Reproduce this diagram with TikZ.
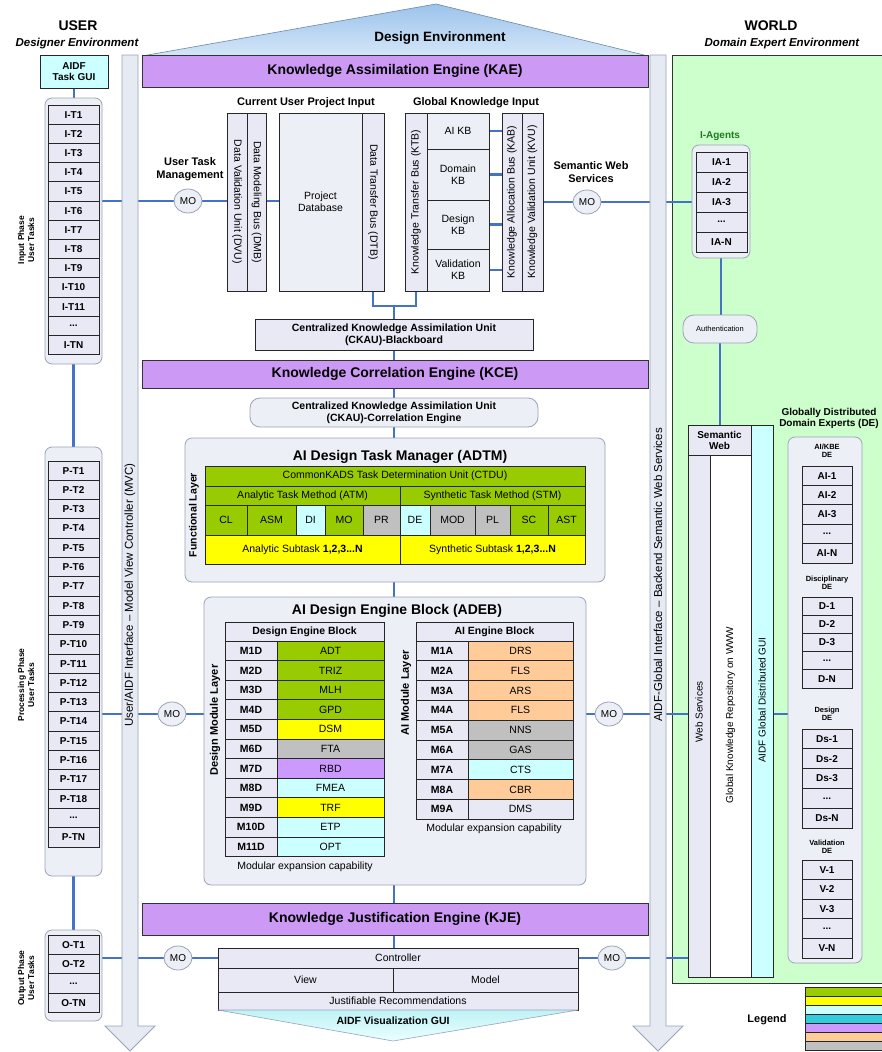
\documentclass[tikz,border=0pt]{standalone}
\usepackage{fontspec}
\setmainfont{Liberation Sans}
\usetikzlibrary{shapes.geometric}
\pgfdeclarelayer{lyA}
\pgfdeclarelayer{lyB}
\pgfdeclarelayer{lyC}
\pgfsetlayers{lyA,lyB,lyC,main}
\definecolor{cblue}{HTML}{4472C4}
\definecolor{kgreen}{HTML}{99CC00}
\definecolor{kyellow}{HTML}{FFFF00}
\definecolor{kcyan}{HTML}{CCFFFF}
\definecolor{kgray}{HTML}{C0C0C0}
\definecolor{kpurple}{HTML}{CC99FF}
\definecolor{korange}{HTML}{FFCC99}
\definecolor{klav}{HTML}{E8E9F4}
\definecolor{kpanel}{HTML}{EDEFF6}
\definecolor{kworld}{HTML}{CCFFCC}
\definecolor{kroofA}{HTML}{9CC3EC}
\definecolor{kroofB}{HTML}{D4E6F8}
\definecolor{karrow}{HTML}{E6EAF3}
\definecolor{kborder}{HTML}{9AA3B8}
\definecolor{kbar}{HTML}{CC99F5}
\definecolor{kdgreen}{HTML}{1E7A1E}
\definecolor{kteal}{HTML}{33CCDD}
\definecolor{kvis}{HTML}{BFF2F5}
\newcommand{\myfs}[2]{\fontsize{#1}{#2}\selectfont}
\newcommand{\ddd}{...}
\newcommand{\mybox}[7]{%
  \pgfmathsetmacro{\myW}{#4-(#2)}%
  \pgfmathsetmacro{\myH}{#5-(#3)}%
  \pgfmathsetmacro{\myX}{(#2+#4)/2}%
  \pgfmathsetmacro{\myY}{(#3+#5)/2}%
  \node[#6, minimum width=\myW pt, minimum height=\myH pt, inner sep=0pt, outer sep=0pt] (#1) at (\myX,\myY) {#7};}
\tikzset{
  conn/.style={draw=cblue, line width=2.8pt},
  bar/.style={draw=black!80, line width=1pt, fill=kbar, font=\bfseries\myfs{14}{16}},
  cell/.style={draw=black!85, line width=1pt, align=center, font=\myfs{10.5}{12}},
  bcell/.style={cell, font=\bfseries\myfs{10.5}{12}},
  item/.style={cell, fill=klav, font=\bfseries\myfs{10}{11}},
  lab/.style={font=\bfseries\myfs{11}{12.5}, align=center, inner sep=0pt},
  rotu/.style={rotate=90, inner sep=0pt, font=\myfs{10.5}{12}, align=center},
  rotd/.style={rotate=-90, inner sep=0pt, font=\myfs{10.5}{12}},
  panel/.style={draw=kborder, line width=0.8pt, fill=kpanel, rounded corners=7pt},
  mo/.style={ellipse, draw=kborder, line width=0.8pt, fill=kpanel, minimum width=28pt, minimum height=24pt, inner sep=0pt, font=\myfs{10}{11}},
}
\begin{document}
\begin{tikzpicture}[x=1pt,y=-1pt]
\useasboundingbox (0,0) rectangle (881,1052);
\begin{pgfonlayer}{lyA}
  \fill[white] (0,0) rectangle (881,1052);
  \shade[top color=kroofA, bottom color=kroofB, draw=kroofA!70!black, line width=0.6pt] (142,56) -- (436,4) -- (648,56) -- cycle;
  \mybox{worldbox}{672}{55}{884}{983}{draw=black!80, line width=1pt, fill=kworld}{}
\end{pgfonlayer}

% titles
\node[font=\bfseries\myfs{14}{16}] (user) at (78,26) {USER};
\node[font=\bfseries\itshape\myfs{11.5}{13}] (userenv) at (77,44) {Designer Environment};
\node[font=\bfseries\myfs{14}{16}] (worldt) at (771,26) {WORLD};
\node[font=\bfseries\itshape\myfs{11.5}{13}] (worldenv) at (782,44) {Domain Expert Environment};
\node[font=\bfseries\myfs{13.5}{15}] (detitle) at (440,38) {Design Environment};

% engine bars
\mybox{kae}{142}{55}{648}{87}{bar}{Knowledge Assimilation Engine (KAE)}
\mybox{kce}{142}{360}{648}{388}{bar}{Knowledge Correlation Engine (KCE)}
\mybox{kje}{142}{903}{648}{935}{bar}{Knowledge Justification Engine (KJE)}

% left user column
\mybox{gui}{40}{55}{108}{88}{bcell, fill=kcyan, font=\bfseries\myfs{10}{11}}{AIDF\\Task GUI}
\mybox{ic}{45}{98}{102}{364}{panel}{}
\foreach \t [count=\i] in {I-T1,I-T2,I-T3,I-T4,I-T5,I-T6,I-T7,I-T8,I-T9,I-T10,I-T11,\ddd,I-TN}{
  \pgfmathsetmacro{\ya}{105+(\i-1)*19.2}\pgfmathsetmacro{\yb}{\ya+19.2}
  \mybox{it\i}{48}{\ya}{99}{\yb}{item}{\t}}
\mybox{pc}{45}{447}{102}{876}{panel}{}
\foreach \t [count=\i] in {P-T1,P-T2,P-T3,P-T4,P-T5,P-T6,P-T7,P-T8,P-T9,P-T10,P-T11,P-T12,P-T13,P-T14,P-T15,P-T16,P-T17,P-T18,\ddd,P-TN}{
  \pgfmathsetmacro{\ya}{461+(\i-1)*19.3}\pgfmathsetmacro{\yb}{\ya+19.3}
  \mybox{pt\i}{48}{\ya}{99}{\yb}{item}{\t}}
\mybox{oc}{45}{930}{102}{1021}{panel}{}
\foreach \t [count=\i] in {O-T1,O-T2,\ddd,O-TN}{
  \pgfmathsetmacro{\ya}{935+(\i-1)*19.4}\pgfmathsetmacro{\yb}{\ya+19.4}
  \mybox{ot\i}{48}{\ya}{99}{\yb}{item}{\t}}
\node[rotu, font=\bfseries\myfs{8.5}{10}] (lin) at (26,240) {Input Phase\\User Tasks};
\node[rotu, font=\bfseries\myfs{8.5}{10}] (lproc) at (26,685) {Processing Phase\\User Tasks};
\node[rotu, font=\bfseries\myfs{8.5}{10}] (lout) at (26,978) {Output Phase\\User Tasks};

% KAE contents
\node[lab] (cupi) at (306,103) {Current User Project Input};
\node[lab] (gki) at (476,103) {Global Knowledge Input};
\mybox{dvu}{227}{113}{247}{291}{cell, fill=klav}{}
\mybox{dmb}{247}{113}{266}{291}{cell, fill=klav}{}
\mybox{pdb}{279}{113}{362}{291}{cell, fill=kpanel}{Project\\Database}
\mybox{dtb}{362}{113}{384}{291}{cell, fill=klav}{}
\mybox{ktb}{405}{113}{427}{291}{cell, fill=klav}{}
\mybox{aikb}{427}{113}{489}{149}{cell, fill=kpanel}{AI KB}
\mybox{dkb}{427}{149}{489}{200}{cell, fill=kpanel}{Domain\\KB}
\mybox{dskb}{427}{200}{489}{249}{cell, fill=kpanel}{Design\\KB}
\mybox{vkb}{427}{249}{489}{291}{cell, fill=kpanel}{Validation\\KB}
\mybox{kab}{502}{113}{522}{291}{cell, fill=klav}{}
\mybox{kvu}{522}{113}{543}{291}{cell, fill=klav}{}
\node[rotd] (dvut) at (dvu.center) {Data Validation Unit (DVU)};
\node[rotd] (dmbt) at (dmb.center) {Data Modeling Bus (DMB)};
\node[rotd] (dtbt) at (dtb.center) {Data Transfer Bus (DTB)};
\node[rotu] (ktbt) at (ktb.center) {Knowledge Transfer Bus (KTB)};
\node[rotu] (kabt) at (kab.center) {Knowledge Allocation Bus (KAB)};
\node[rotu] (kvut) at (kvu.center) {Knowledge Validation Unit (KVU)};
\coordinate (bus) at (394,306);
\mybox{ckau}{255}{319}{533}{350}{bcell, fill=klav}{Centralized Knowledge Assimilation Unit\\(CKAU)-Blackboard}
\node[lab] (utm) at (190,169) {User Task\\Management};
\node[mo] (mo1) at (188,201) {MO};
\node[lab] (sws) at (591,172) {Semantic Web\\Services};
\node[mo] (mo2) at (587,202) {MO};

% KCE contents
\mybox{ckauce}{250}{398}{538}{427}{panel, rounded corners=10pt, font=\bfseries\myfs{10.5}{12}, align=center}{Centralized Knowledge Assimilation Unit\\(CKAU)-Correlation Engine}
\mybox{adtm}{185}{438}{605}{582}{panel}{}
\node[font=\bfseries\myfs{14}{16}] (adtmt) at (400,457) {AI Design Task Manager (ADTM)};
\mybox{ctdu}{205}{466}{585}{486}{cell, fill=kgreen}{CommonKADS Task Determination Unit (CTDU)}
\mybox{atm}{205}{486}{400}{505}{cell, fill=kgreen}{Analytic Task Method (ATM)}
\mybox{stm}{400}{486}{585}{505}{cell, fill=kgreen}{Synthetic Task Method (STM)}
\foreach \nm/\xa/\xb/\c/\t in {cl/205/247/kgreen/CL, asm/247/296/kgreen/ASM, di/296/325/kcyan/DI, mo/325/363/kgreen/MO, pr/363/400/kgray/PR, de/400/430/kcyan/DE, mod/430/475/kgray/MOD, pl/475/510/kgray/PL, sc/510/548/kgreen/SC, ast/548/585/kgreen/AST}{
  \mybox{m\nm}{\xa}{505}{\xb}{535}{cell, fill=\c}{\t}}
\mybox{asub}{205}{535}{400}{564}{cell, fill=kyellow}{Analytic Subtask \textbf{1,2,3...N}}
\mybox{ssub}{400}{535}{585}{564}{cell, fill=kyellow}{Synthetic Subtask \textbf{1,2,3...N}}
\node[rotu, font=\bfseries\myfs{10.5}{12}] (fl) at (194,515) {Functional Layer};

% ADEB
\mybox{adeb}{204}{597}{586}{885}{panel}{}
\node[font=\bfseries\myfs{14}{16}] (adebt) at (397,611) {AI Design Engine Block (ADEB)};
\mybox{deb}{225}{622}{384}{641}{bcell, fill=klav}{Design Engine Block}
\foreach \a/\b/\c [count=\i] in {M1D/ADT/kgreen, M2D/TRIZ/kgreen, M3D/MLH/kgreen, M4D/GPD/kgreen, M5D/DSM/kyellow, M6D/FTA/kgray, M7D/RBD/kpurple, M8D/FMEA/kcyan, M9D/TRF/kyellow, M10D/ETP/kcyan, M11D/OPT/kcyan}{
  \pgfmathsetmacro{\ya}{641+(\i-1)*19.6}\pgfmathsetmacro{\yb}{\ya+19.6}
  \mybox{dl\i}{225}{\ya}{277}{\yb}{bcell, fill=klav}{\a}
  \mybox{dr\i}{277}{\ya}{384}{\yb}{cell, fill=\c}{\b}}
\node[font=\myfs{10.5}{12}] (dmec) at (305,867) {Modular expansion capability};
\node[rotu, font=\bfseries\myfs{11}{12}] (dml) at (215,720) {Design Module Layer};
\mybox{aeb}{416}{622}{573}{641}{bcell, fill=klav}{AI Engine Block}
\foreach \a/\b/\c [count=\i] in {M1A/DRS/korange, M2A/FLS/korange, M3A/ARS/korange, M4A/FLS/korange, M5A/NNS/kgray, M6A/GAS/kgray, M7A/CTS/kcyan, M8A/CBR/korange, M9A/DMS/klav}{
  \pgfmathsetmacro{\ya}{641+(\i-1)*19.8}\pgfmathsetmacro{\yb}{\ya+19.8}
  \mybox{al\i}{416}{\ya}{468}{\yb}{bcell, fill=klav}{\a}
  \mybox{ar\i}{468}{\ya}{573}{\yb}{cell, fill=\c}{\b}}
\node[font=\myfs{10.5}{12}] (amec) at (494,829) {Modular expansion capability};
\node[rotu, font=\bfseries\myfs{11}{12}] (aml) at (406,693) {AI Module Layer};
\node[mo] (mo3) at (172,714) {MO};
\node[mo] (mo4) at (609,714) {MO};

% MVC block
\mybox{ctrl}{218}{948}{578}{968}{cell, fill=klav}{Controller}
\mybox{view}{218}{968}{393}{992}{cell, fill=klav}{View}
\mybox{model}{393}{968}{578}{992}{cell, fill=klav}{Model}
\mybox{jr}{218}{992}{578}{1010}{cell, fill=klav}{Justifiable Recommendations}
\shade[top color=kvis, bottom color=kcyan!40, draw=kborder, line width=0.6pt] (jr.south west) -- (jr.south east) -- (393,1041) -- cycle;
\node[font=\bfseries\myfs{10.5}{12}] (vgui) at (393,1021) {AIDF Visualization GUI};
\node[mo] (mo5) at (178,958) {MO};
\node[mo] (mo6) at (612,958) {MO};

% World side
\node[font=\bfseries\myfs{10}{11}, text=kdgreen] (iat) at (720,136) {I-Agents};
\mybox{iac}{692}{145}{750}{258}{panel}{}
\foreach \t [count=\i] in {IA-1,IA-2,IA-3,\ddd,IA-N}{
  \pgfmathsetmacro{\ya}{152+(\i-1)*20}\pgfmathsetmacro{\yb}{\ya+20}
  \mybox{ia\i}{696}{\ya}{747}{\yb}{item}{\t}}
\mybox{auth}{683}{315}{757}{343}{panel, rounded corners=11pt, font=\myfs{7.5}{8}}{Authentication}
\mybox{swh}{688}{425}{751}{455}{bcell, fill=klav, font=\bfseries\myfs{10}{11}}{Semantic\\Web}
\mybox{wsc}{688}{455}{710}{977}{cell, fill=klav}{}
\mybox{gkr}{710}{455}{751}{977}{cell, fill=white}{}
\mybox{agui}{751}{425}{773}{977}{cell, fill=kcyan}{}
\node[rotu, font=\myfs{10}{11}] (wsct) at (699,712) {Web Services};
\node[rotu, font=\myfs{10}{11}] (gkrt) at (730.5,715) {Global Knowledge Repository on WWW};
\node[rotu, font=\myfs{10}{11}] (aguit) at (762,700) {AIDF Global Distributed GUI};
\node[font=\bfseries\myfs{10}{11}, align=center] (gdde) at (829,418) {Globally Distributed\\Domain Experts (DE)};
\mybox{dec}{788}{437}{862}{963}{panel}{}
\node[lab, font=\bfseries\myfs{7.5}{8.5}] (g1) at (827,451) {AI/KBE\\DE};
\foreach \t [count=\i] in {AI-1,AI-2,AI-3,\ddd,AI-N}{
  \pgfmathsetmacro{\ya}{466+(\i-1)*19.4}\pgfmathsetmacro{\yb}{\ya+19.4}
  \mybox{ai\i}{802}{\ya}{852}{\yb}{item}{\t}}
\node[lab, font=\bfseries\myfs{7.5}{8.5}] (g2) at (827,583) {Disciplinary\\DE};
\foreach \t [count=\i] in {D-1,D-2,D-3,\ddd,D-N}{
  \pgfmathsetmacro{\ya}{597+(\i-1)*18.2}\pgfmathsetmacro{\yb}{\ya+18.2}
  \mybox{dd\i}{802}{\ya}{852}{\yb}{item}{\t}}
\node[lab, font=\bfseries\myfs{7.5}{8.5}] (g3) at (827,714) {Design\\DE};
\foreach \t [count=\i] in {Ds-1,Ds-2,Ds-3,\ddd,Ds-N}{
  \pgfmathsetmacro{\ya}{729+(\i-1)*19.8}\pgfmathsetmacro{\yb}{\ya+19.8}
  \mybox{ds\i}{802}{\ya}{852}{\yb}{item}{\t}}
\node[lab, font=\bfseries\myfs{7.5}{8.5}] (g4) at (827,847) {Validation\\DE};
\foreach \t [count=\i] in {V-1,V-2,V-3,\ddd,V-N}{
  \pgfmathsetmacro{\ya}{860+(\i-1)*19.6}\pgfmathsetmacro{\yb}{\ya+19.6}
  \mybox{vv\i}{802}{\ya}{852}{\yb}{item}{\t}}

% legend
\node[font=\bfseries\myfs{11}{12}] (legend) at (767,1020) {Legend};
\foreach \c [count=\i] in {kgreen,kyellow,kcyan,kteal,kpurple,korange,kgray}{
  \pgfmathsetmacro{\ya}{987+(\i-1)*9}\pgfmathsetmacro{\yb}{\ya+9}
  \mybox{lg\i}{805}{\ya}{884}{\yb}{draw=black!85, line width=0.6pt, fill=\c}{}}

% rotated arrow labels
\node[rotu, font=\myfs{11.5}{13}] (mvct) at (130,595) {User/AIDF Interface -- Model View Controller (MVC)};
\node[rotu, font=\myfs{11.5}{13}] (bswt) at (658,575) {AIDF-Global Interface -- Backend Semantic Web Services};

% connectors
\begin{pgfonlayer}{lyB}
  \draw[conn] (gui.south) -- (gui.south |- ic.north);
  \draw[conn] (ic.south) -- (ic.south |- pc.north);
  \draw[conn] (pc.south) -- (pc.south |- oc.north);
  \draw[conn] (ic.east |- mo1) -- (mo1);
  \draw[conn] (mo1) -- (dvu.west |- mo1);
  \draw[conn] (dmb.east |- mo1) -- (pdb.west |- mo1);
  \draw[conn] (dtb.south) |- (bus) -| (ktb.south);
  \draw[conn] (bus) -- (bus |- ckau.north);
  \foreach \k in {aikb,dkb,dskb,vkb}{\draw[conn, line width=2.2pt] (\k.east) -- (kab.west |- \k.east);}
  \draw[conn] (kvu.east |- mo2) -- (mo2);
  \draw[conn] (mo2) -- (iac.west |- mo2);
  \draw[conn] (iac.south) -- (iac.south |- auth.north);
  \draw[conn] (auth.south) -- (auth.south |- swh.north);
  \draw[conn] (bus |- ckau.south) -- (bus |- kce.north);
  \draw[conn] (bus |- kce.south) -- (bus |- ckauce.north);
  \draw[conn] (bus |- ckauce.south) -- (bus |- adtm.north);
  \draw[conn] (bus |- adtm.south) -- (bus |- adeb.north);
  \draw[conn] (bus |- adeb.south) -- (bus |- kje.north);
  \draw[conn] (bus |- kje.south) -- (bus |- ctrl.north);
  \draw[conn] (pc.east |- mo3) -- (mo3);
  \draw[conn] (mo3) -- (adeb.west |- mo3);
  \draw[conn] (adeb.east |- mo4) -- (mo4);
  \draw[conn] (mo4) -- (wsc.west |- mo4);
  \draw[conn] (agui.east |- mo4) -- (dec.west |- mo4);
  \draw[conn] (oc.east |- mo5) -- (mo5);
  \draw[conn] (mo5) -- (ctrl.west |- mo5);
  \draw[conn] (ctrl.east |- mo6) -- (mo6);
  \draw[conn] (mo6) -- (wsc.west |- mo6);
\end{pgfonlayer}

% interface arrows
\begin{pgfonlayer}{lyC}
  \path[fill=karrow, draw=kborder, line width=0.8pt] (122,55) -- (138,55) -- (138,1026) -- (155,1026) -- (130,1051) -- (105,1026) -- (122,1026) -- cycle;
  \path[fill=karrow, draw=kborder, line width=0.8pt] (650,55) -- (666,55) -- (666,1026) -- (683,1026) -- (658,1051) -- (633,1026) -- (650,1026) -- cycle;
\end{pgfonlayer}
\end{tikzpicture}
\end{document}
